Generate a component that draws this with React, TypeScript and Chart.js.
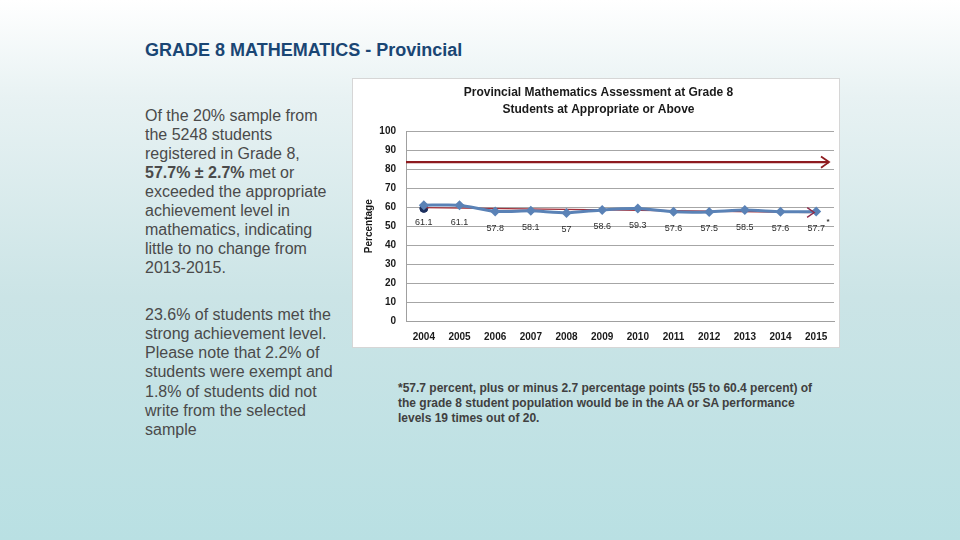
import React, { useEffect, useRef } from "react";
import { Chart, registerables } from "chart.js";

Chart.register(...registerables);

const years = ["2004", "2005", "2006", "2007", "2008", "2009", "2010", "2011", "2012", "2013", "2014", "2015"];
const appropriateOrAbove = [61.1, 61.1, 57.8, 58.1, 57, 58.6, 59.3, 57.6, 57.5, 58.5, 57.6, 57.7];
const valueLabels = ["61.1", "61.1", "57.8", "58.1", "57", "58.6", "59.3", "57.6", "57.5", "58.5", "57.6", "57.7"];
const trendLine = [59.8, null, null, null, null, null, null, null, null, null, null, 57.2];
const baselinePoint = [59.4, null, null, null, null, null, null, null, null, null, null, null];
const targetValue = 83.8;
const yTicks = [0, 10, 20, 30, 40, 50, 60, 70, 80, 90, 100];

const FONT = "'Liberation Sans', Arial, sans-serif";

function chevron(ctx: CanvasRenderingContext2D, x: number, y: number, size: number, angle: number) {
  ctx.save();
  ctx.translate(x, y);
  ctx.rotate(angle);
  ctx.beginPath();
  ctx.moveTo(-size, -size * 0.7);
  ctx.lineTo(0, 0);
  ctx.lineTo(-size, size * 0.7);
  ctx.stroke();
  ctx.restore();
}

const overlayPlugin = {
  id: "overlay",
  beforeDatasetsDraw(chart: any) {
    const { ctx, chartArea, scales } = chart;
    const y = scales.y;
    const ty = y.getPixelForValue(targetValue);
    ctx.save();
    ctx.strokeStyle = "#8e1b1f";
    ctx.lineWidth = 2.2;
    ctx.beginPath();
    ctx.moveTo(chartArea.left, ty);
    ctx.lineTo(chartArea.right - 5, ty);
    ctx.stroke();
    ctx.lineWidth = 1.8;
    chevron(ctx, chartArea.right - 5, ty, 8, 0);
    ctx.restore();
  },
  afterDatasetsDraw(chart: any) {
    const { ctx } = chart;
    const tMeta = chart.getDatasetMeta(1);
    const pts = tMeta.data;
    const a = pts[0];
    const b = pts[pts.length - 1];
    if (a && b) {
      ctx.save();
      ctx.strokeStyle = "#8e2a48";
      ctx.lineWidth = 1.4;
      const ang = Math.atan2(b.y - a.y, b.x - a.x);
      chevron(ctx, b.x - 2, b.y, 7, ang);
      ctx.restore();
    }
    const meta = chart.getDatasetMeta(0);
    ctx.save();
    ctx.fillStyle = "#2e2e2e";
    ctx.font = `9px ${FONT}`;
    ctx.textAlign = "center";
    ctx.textBaseline = "middle";
    meta.data.forEach((pt: any, i: number) => {
      ctx.fillText(valueLabels[i], pt.x, pt.y + 17);
    });
    const last = meta.data[meta.data.length - 1];
    if (last) {
      ctx.font = `bold 8px ${FONT}`;
      ctx.fillText("*", last.x + 12, last.y + 10);
    }
    ctx.restore();
  },
};

function ChartBox() {
  const ref = useRef<HTMLCanvasElement | null>(null);
  useEffect(() => {
    if (!ref.current) return;
    const chart = new Chart(ref.current, {
      type: "line",
      data: {
        labels: years,
        datasets: [
          {
            label: "Students at Appropriate or Above",
            data: appropriateOrAbove,
            borderColor: "#5a82b6",
            backgroundColor: "#5a82b6",
            borderWidth: 3,
            pointStyle: "rectRot",
            pointRadius: 5,
            pointBorderWidth: 0,
            tension: 0.2,
          },
          {
            label: "Trend",
            data: trendLine,
            borderColor: "#a3303a",
            borderWidth: 1.4,
            pointRadius: 0,
            spanGaps: true,
          },
          {
            label: "Baseline",
            data: baselinePoint,
            borderColor: "#1c2f5e",
            backgroundColor: "#1c2f5e",
            pointStyle: "circle",
            pointRadius: 4,
            showLine: false,
          },
        ],
      },
      options: {
        animation: false,
        responsive: false,
        maintainAspectRatio: false,
        layout: { padding: { left: 10, right: 5, top: 0, bottom: 0 } },
        plugins: {
          legend: { display: false },
          tooltip: { enabled: false },
          title: {
            display: true,
            text: ["Provincial Mathematics Assessment at Grade 8", "Students at Appropriate or Above"],
            color: "#1a1a1a",
            font: { family: FONT, size: 12, weight: "bold", lineHeight: 1.35 },
            padding: { top: 6, bottom: 14 },
          },
        },
        scales: {
          x: {
            offset: true,
            grid: { display: false, drawTicks: false },
            border: { display: true, color: "#a0a0a0" },
            afterFit: (s: any) => {
              s.height = 26;
            },
            ticks: {
              color: "#1a1a1a",
              font: { family: FONT, size: 10, weight: "bold" },
              padding: 10,
              maxRotation: 0,
            },
          },
          y: {
            min: 0,
            max: 100,
            afterBuildTicks: (s: any) => {
              s.ticks = yTicks.map((v) => ({ value: v }));
            },
            afterFit: (s: any) => {
              s.width = 43;
            },
            grid: { color: "#a6a6a6", lineWidth: 1, drawTicks: false },
            border: { display: true, color: "#a0a0a0" },
            ticks: {
              color: "#1a1a1a",
              font: { family: FONT, size: 10, weight: "bold" },
              padding: 10,
            },
            title: {
              display: true,
              text: "Percentage",
              color: "#1a1a1a",
              font: { family: FONT, size: 10, weight: "bold" },
              padding: { top: 0, bottom: 2 },
            },
          },
        },
      },
      plugins: [overlayPlugin],
    });
    return () => chart.destroy();
  }, []);
  return (
    <div
      style={{
        position: "absolute",
        left: 352,
        top: 78,
        width: 488,
        height: 270,
        background: "#ffffff",
        border: "1px solid #d6d6d6",
        boxSizing: "border-box",
      }}
    >
      <canvas ref={ref} width={486} height={268} style={{ display: "block" }} />
    </div>
  );
}

export default function App() {
  const para: React.CSSProperties = {
    position: "absolute",
    left: 145,
    margin: 0,
    fontFamily: FONT,
    fontSize: 16,
    color: "#4a4a4a",
    whiteSpace: "nowrap",
  };
  return (
    <div
      style={{
        position: "fixed",
        left: 0,
        top: 0,
        width: 960,
        height: 540,
        overflow: "hidden",
        background: "linear-gradient(to bottom, #ffffff 0%, #e8f2f3 18%, #cbe4e6 55%, #b9e0e3 100%)",
      }}
    >
      <div
        style={{
          position: "absolute",
          left: 145,
          top: 39,
          lineHeight: "22px",
          fontFamily: FONT,
          fontWeight: "bold",
          fontSize: 18,
          color: "#1a4674",
          whiteSpace: "nowrap",
        }}
      >
        GRADE 8 MATHEMATICS - Provincial
      </div>
      <p style={{ ...para, top: 105.5, lineHeight: "19px" }}>
        Of the 20% sample from
        <br />
        the 5248 students
        <br />
        registered in Grade 8,
        <br />
        <b>57.7% ± 2.7%</b> met or
        <br />
        exceeded the appropriate
        <br />
        achievement level in
        <br />
        mathematics, indicating
        <br />
        little to no change from
        <br />
        2013-2015.
      </p>
      <p style={{ ...para, top: 304.5, lineHeight: "19.3px" }}>
        23.6% of students met the
        <br />
        strong achievement level.
        <br />
        Please note that 2.2% of
        <br />
        students were exempt and
        <br />
        1.8% of students did not
        <br />
        write from the selected
        <br />
        sample
      </p>
      <ChartBox />
      <p
        style={{
          position: "absolute",
          left: 398,
          top: 380.5,
          margin: 0,
          lineHeight: "15px",
          fontFamily: FONT,
          fontWeight: "bold",
          fontSize: 12,
          color: "#404040",
          whiteSpace: "nowrap",
        }}
      >
        *57.7 percent, plus or minus 2.7 percentage points (55 to 60.4 percent) of
        <br />
        the grade 8 student population would be in the AA or SA performance
        <br />
        levels 19 times out of 20.
      </p>
    </div>
  );
}
